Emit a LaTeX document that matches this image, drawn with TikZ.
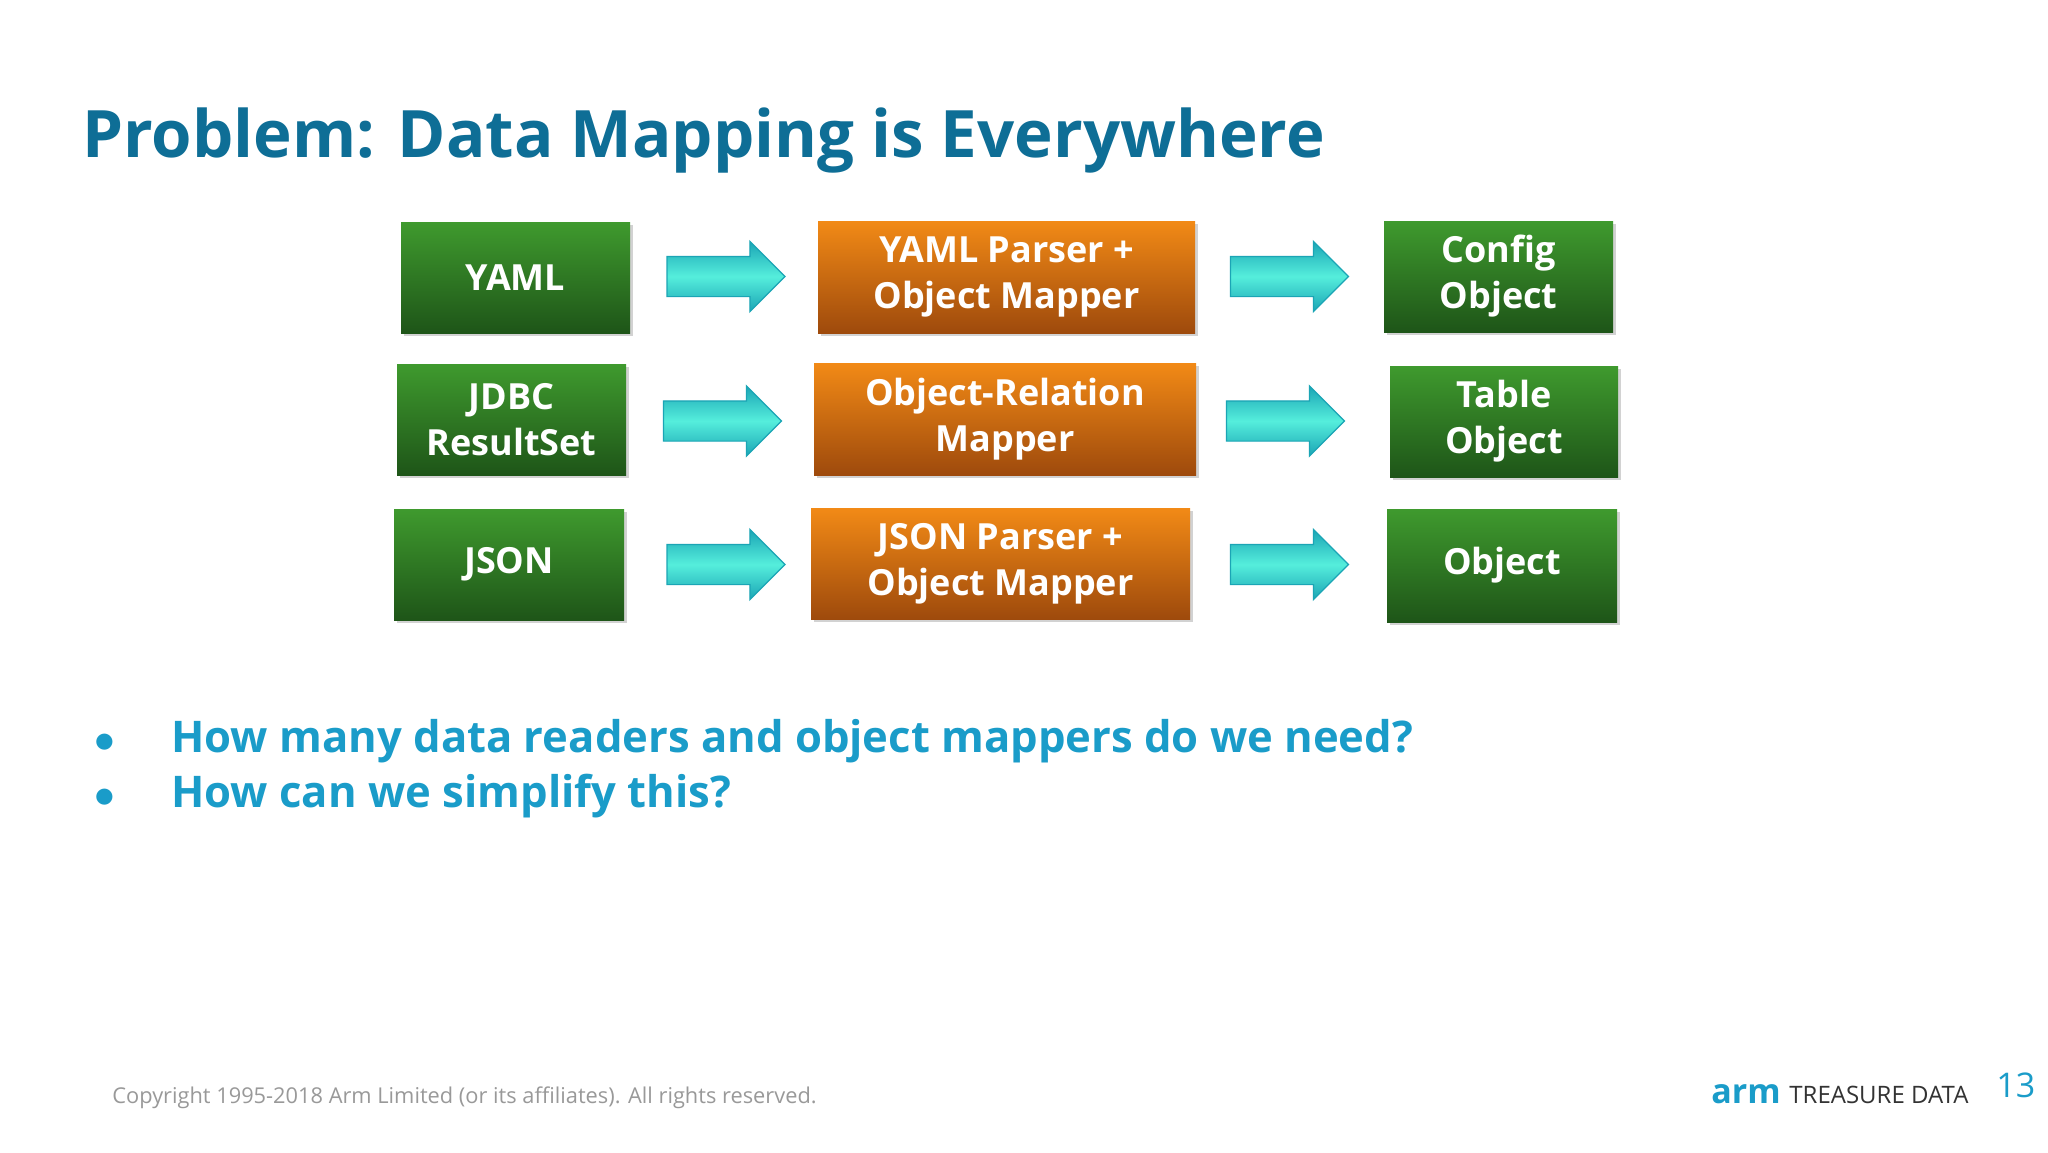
\documentclass[tikz,border=0pt]{standalone}
\usepackage{fontspec}
\setmainfont{Open Sans}
\usetikzlibrary{shapes.arrows,shadows}
\definecolor{titleblue}{HTML}{0E6E96}
\definecolor{bulletblue}{HTML}{1A9CC9}
\definecolor{gtop}{HTML}{3F9A2E}
\definecolor{gbot}{HTML}{1E5518}
\definecolor{otop}{HTML}{F28A16}
\definecolor{obot}{HTML}{9E4A0C}
\definecolor{aedge}{HTML}{1BA5B5}
\definecolor{amid}{HTML}{55EEDC}
\tikzset{
 box/.style={rectangle,text=white,font=\bfseries\fontsize{18}{23}\selectfont,align=center,inner sep=0pt,drop shadow={opacity=0.35,shadow xshift=1.5pt,shadow yshift=-1.5pt}},
 gbox/.style={box,top color=gtop,bottom color=gbot},
 obox/.style={box,top color=otop,bottom color=obot},
 arr/.style={single arrow,draw=aedge,line width=0.6pt,minimum width=34.5pt,single arrow head extend=7.5pt,minimum height=59pt,inner xsep=0pt,inner ysep=9.75pt,top color=aedge,bottom color=aedge,middle color=amid,shading angle=0},
}
\begin{document}
\begin{tikzpicture}[x=0.5pt,y=-0.5pt]
\useasboundingbox[fill=white] (0,0) rectangle (2048,1152);
\node[anchor=base west,text=titleblue,font=\bfseries\fontsize{32.7}{38}\selectfont,inner sep=0pt] (title) at (82,157) {Problem: Data Mapping is Everywhere};
% row 1
\node[gbox,minimum width=114.5pt,minimum height=55.5pt] (yaml) at (515.5,277.5) {YAML};
\node[obox,minimum width=188.5pt,minimum height=56pt] (yp) at (1006.5,277) {YAML Parser +\\Object Mapper};
\node[gbox,minimum width=114.5pt,minimum height=55.5pt] (cfg) at (1498.5,276.5) {Config\\Object};
\node[arr] (a1) at (716,276.5) {};
\node[arr] (a2) at (1279.5,276.5) {};
% row 2
\node[gbox,minimum width=114.5pt,minimum height=55.5pt] (jdbc) at (511.5,419.5) {JDBC\\ResultSet};
\node[obox,minimum width=191pt,minimum height=56pt] (orm) at (1005,419) {Object-Relation\\Mapper};
\node[gbox,minimum width=114pt,minimum height=55.5pt] (tbl) at (1504,421.5) {Table\\Object};
\node[arr] (a3) at (712.5,421) {};
\node[arr] (a4) at (1275.5,421) {};
% row 3
\node[gbox,minimum width=115pt,minimum height=55.5pt] (json) at (509,564.5) {JSON};
\node[obox,minimum width=189.5pt,minimum height=55.5pt] (jp) at (1000.5,563.5) {JSON Parser +\\Object Mapper};
\node[gbox,minimum width=115pt,minimum height=56.5pt] (obj) at (1502,565.5) {Object};
\node[arr] (a5) at (716,564.5) {};
\node[arr] (a6) at (1279.5,564.5) {};
% bullets
\node[anchor=base,text=bulletblue,font=\fontsize{20}{22}\selectfont,inner sep=0pt] (b1) at (105,752) {$\bullet$};
\node[anchor=base,text=bulletblue,font=\fontsize{20}{22}\selectfont,inner sep=0pt] (b2) at (105,807) {$\bullet$};
\node[anchor=base west,text=bulletblue,font=\bfseries\fontsize{21.8}{24}\selectfont,inner sep=0pt] (t1) at (171,752) {How many data readers and object mappers do we need?};
\node[anchor=base west,text=bulletblue,font=\bfseries\fontsize{21.8}{24}\selectfont,inner sep=0pt] (t2) at (171,807) {How can we simplify this?};
% footer
\node[anchor=base west,text=black!40,font=\fontsize{10.9}{13}\selectfont,inner sep=0pt] (copy) at (112,1103) {Copyright 1995-2018 Arm Limited (or its affiliates). All rights reserved.};
\node[anchor=base west,text=bulletblue,font=\bfseries\fontsize{17}{21}\selectfont,inner sep=0pt] (arm) at (1711,1103) {arm};
\node[anchor=base west,text=black!80,font=\fontsize{12}{15}\selectfont,inner sep=0pt] (td) at (1789,1103) {TREASURE DATA};
\node[anchor=base west,text=bulletblue,font=\fontsize{17}{19}\selectfont,inner sep=0pt] (pg) at (1996,1097) {13};
\end{tikzpicture}
\end{document}
